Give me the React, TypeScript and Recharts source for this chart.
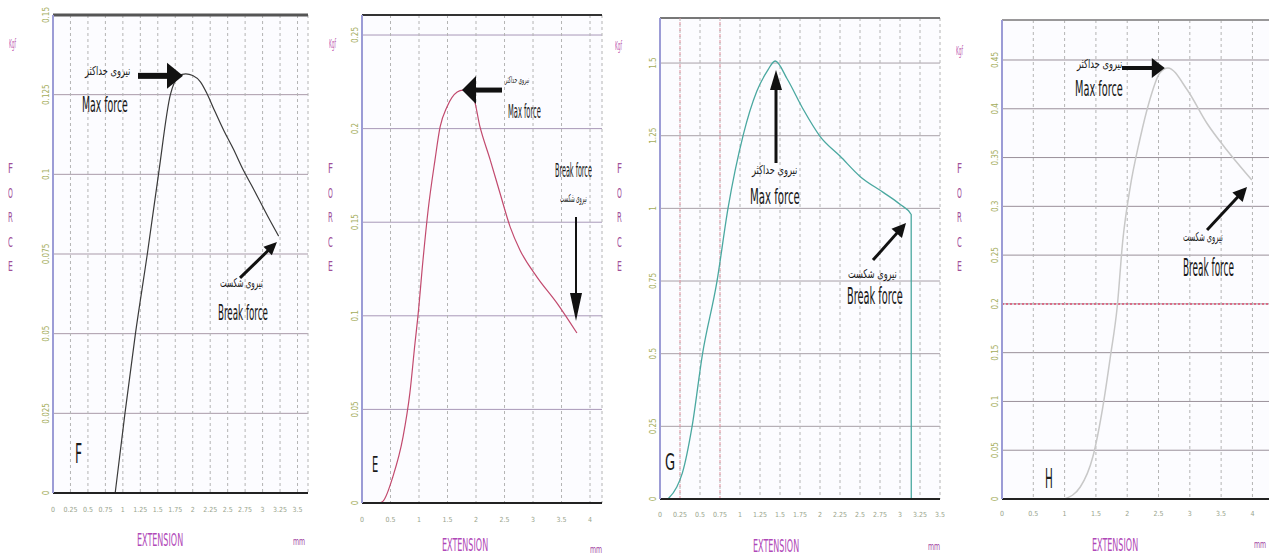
import React, { useLayoutEffect, useRef, useState } from 'react';
import { LineChart, Line, XAxis, YAxis, CartesianGrid, ReferenceLine } from 'recharts';

const COND = "'DejaVu Sans Condensed', 'DejaVu Sans', sans-serif";
const H = 557;

// F: extension (mm) / force (kgf)
const fExtension = [0.89, 1.03, 1.18, 1.35, 1.51, 1.68, 1.74, 1.8, 1.9, 2.0, 2.11, 2.2, 2.3, 2.45, 2.58, 2.72, 2.87, 3.07, 3.23];
const fForce = [0, 0.025, 0.05, 0.075, 0.1, 0.125, 0.129, 0.131, 0.1315, 0.131, 0.129, 0.1255, 0.1206, 0.1135, 0.108, 0.1015, 0.0954, 0.087, 0.0806];
const fTicksX = [0, 0.25, 0.5, 0.75, 1, 1.25, 1.5, 1.75, 2, 2.25, 2.5, 2.75, 3, 3.25, 3.5];
const fTicksY = [0, 0.025, 0.05, 0.075, 0.1, 0.125, 0.15];

// E
const eExtension = [0.3, 0.37, 0.54, 0.72, 0.84, 0.93, 0.98, 1.07, 1.16, 1.28, 1.37, 1.49, 1.67, 1.77, 1.95, 2.07, 2.25, 2.42, 2.6, 2.77, 3.07, 3.42, 3.77];
const eForce = [0, 0.001, 0.0139, 0.0353, 0.0588, 0.0855, 0.0994, 0.1298, 0.1565, 0.1832, 0.2009, 0.2116, 0.2196, 0.2206, 0.2169, 0.2009, 0.1832, 0.1656, 0.1474, 0.1352, 0.1207, 0.1068, 0.0908];
const eTicksX = [0, 0.5, 1, 1.5, 2, 2.5, 3, 3.5, 4];
const eTicksY = [0, 0.05, 0.1, 0.15, 0.2, 0.25];

// G
const gExtension = [0.1, 0.21, 0.28, 0.4, 0.53, 0.71, 0.85, 1.04, 1.21, 1.34, 1.44, 1.59, 1.79, 2.0, 2.25, 2.5, 2.79, 3.0, 3.14, 3.141];
const gForce = [0, 0.041, 0.09, 0.248, 0.497, 0.745, 1.0, 1.252, 1.403, 1.472, 1.507, 1.445, 1.341, 1.248, 1.18, 1.11, 1.055, 1.014, 0.979, 0];
const gTicksX = [0, 0.25, 0.5, 0.75, 1, 1.25, 1.5, 1.75, 2, 2.25, 2.5, 2.75, 3, 3.25, 3.5];
const gTicksY = [0, 0.25, 0.5, 0.75, 1, 1.25, 1.5];

// H
const hExtension = [1.0, 1.25, 1.45, 1.61, 1.73, 1.84, 1.93, 2.04, 2.2, 2.36, 2.52, 2.65, 2.96, 3.27, 3.59, 3.99];
const hForce = [0, 0.0123, 0.043, 0.0943, 0.1455, 0.1968, 0.2655, 0.3167, 0.368, 0.409, 0.4366, 0.4418, 0.4192, 0.3854, 0.3577, 0.327];
const hTicksX = [0, 0.5, 1, 1.5, 2, 2.5, 3, 3.5, 4];
const hTicksY = [0, 0.05, 0.1, 0.15, 0.2, 0.25, 0.3, 0.35, 0.4, 0.45];

const fmt = (v: number) => String(+v.toFixed(3));

type Arrow = { from: [number, number]; to: [number, number]; w: number; head: number; hw: number };

const arrowShape = (a: Arrow) => (props: any) => {
  const { x1, y1, x2, y2 } = props;
  const dx = x2 - x1, dy = y2 - y1;
  const len = Math.hypot(dx, dy) || 1;
  const ux = dx / len, uy = dy / len;
  const bx = x2 - ux * a.head, by = y2 - uy * a.head;
  const px = -uy, py = ux;
  return (
    <g>
      <line x1={x1} y1={y1} x2={bx + ux} y2={by + uy} stroke="#111" strokeWidth={a.w} />
      <polygon
        points={`${x2},${y2} ${bx + px * a.hw},${by + py * a.hw} ${bx - px * a.hw},${by - py * a.hw}`}
        fill="#111"
      />
    </g>
  );
};

const YTick = ({ x, y, payload }: any) => (
  <text x={x} y={y} transform={`rotate(-90 ${x} ${y})`} textAnchor="middle" fontSize={8} fill="#a4ad5c" fontFamily={COND}>
    {fmt(payload.value)}
  </text>
);

function Panel(p: any) {
  const data = p.ext.map((x: number, i: number) => ({ x, y: p.force[i] }));
  const xh = 30;
  return (
    <div style={{ position: 'absolute', left: p.left, top: 0 }}>
      <LineChart
        width={p.width}
        height={H}
        data={data}
        margin={{ top: p.plotTop, right: p.right, bottom: H - p.plotBottom - xh, left: 0 }}
      >
        <CartesianGrid vertical={false} stroke={p.hGrid} fill="#fcfcff" />
        <CartesianGrid horizontal={false} stroke="#b4b4b4" strokeDasharray="3 3" />
        <XAxis
          dataKey="x" type="number" domain={p.xDomain} ticks={p.xTicks} interval={0}
          height={xh} allowDataOverflow tickSize={0} tickMargin={p.xTickMargin}
          axisLine={{ stroke: '#222', strokeWidth: 2 }}
          tick={{ fontSize: 7, fill: '#98a48c', fontFamily: COND }}
          tickFormatter={fmt}
        />
        <YAxis
          type="number" domain={p.yDomain} ticks={p.yTicks} interval={0} width={p.yWidth}
          allowDataOverflow tickSize={0} tickMargin={4}
          axisLine={{ stroke: '#9c9cd6', strokeWidth: 2 }}
          tick={(t: any) => <YTick {...t} />}
        />
        <ReferenceLine y={p.yDomain[1]} stroke={p.topColor} strokeWidth={p.topWidth} />
        {p.extra}
        <Line dataKey="y" type="monotone" stroke={p.color} strokeWidth={p.lineWidth} dot={false} isAnimationActive={false} />
        {p.arrows.map((a: Arrow, i: number) => (
          <ReferenceLine
            key={i}
            segment={[{ x: a.from[0], y: a.from[1] }, { x: a.to[0], y: a.to[1] }]}
            shape={arrowShape(a)}
          />
        ))}
      </LineChart>
    </div>
  );
}

// text fitted to a measured width; y is the top of the capitals
function FitText({ x, y, w, h, color = '#1a1a1a', font = COND, children }: any) {
  const ref = useRef<HTMLSpanElement>(null);
  const [s, setS] = useState(1);
  const size = h / 0.729;
  useLayoutEffect(() => {
    const mw = ref.current ? ref.current.offsetWidth : 0;
    if (mw) setS(w / mw);
  }, [w, children]);
  return (
    <span
      ref={ref}
      style={{
        position: 'absolute', left: x, top: y - 0.117 * size, fontSize: size, lineHeight: 1,
        color, fontFamily: font, whiteSpace: 'nowrap', transform: `scaleX(${s})`, transformOrigin: 'left top',
      }}
    >
      {children}
    </span>
  );
}

const MAX_FA = 'نیروی حداکثر';
const BREAK_FA = 'نیروی شکست';
const AR = "'DejaVu Sans', sans-serif";

const panels = [
  {
    left: 0, width: 320, yWidth: 53, right: 12, plotTop: 15, plotBottom: 493, xTickMargin: 14,
    ext: fExtension, force: fForce, xTicks: fTicksX, yTicks: fTicksY, xDomain: [0, 3.65], yDomain: [0, 0.15],
    color: '#3a3a3a', lineWidth: 1.2, hGrid: '#a99aa9', topColor: '#555', topWidth: 3,
    arrows: [
      { from: [1.217, 0.1309], to: [1.861, 0.1309], w: 6, head: 16, hw: 13 },
      { from: [2.677, 0.0675], to: [3.206, 0.0788], w: 3, head: 13, hw: 6 },
    ],
  },
  {
    left: 320, width: 290, yWidth: 42, right: 8, plotTop: 15, plotBottom: 503, xTickMargin: 14,
    ext: eExtension, force: eForce, xTicks: eTicksX, yTicks: eTicksY, xDomain: [0, 4.21], yDomain: [0, 0.2607],
    color: '#c24a6e', lineWidth: 1.2, hGrid: '#a898b8', topColor: '#333', topWidth: 2,
    arrows: [
      { from: [2.456, 0.2206], to: [1.754, 0.2206], w: 5, head: 14, hw: 14 },
      { from: [3.754, 0.1528], to: [3.754, 0.0972], w: 2, head: 28, hw: 6 },
    ],
  },
  {
    left: 610, width: 335, yWidth: 50, right: 5, plotTop: 18, plotBottom: 499, xTickMargin: 13,
    ext: gExtension, force: gForce, xTicks: gTicksX, yTicks: gTicksY, xDomain: [0, 3.5], yDomain: [0, 1.655],
    color: '#4aa8a0', lineWidth: 1.3, hGrid: '#a8a0a8', topColor: '#777', topWidth: 2,
    arrows: [
      { from: [1.45, 1.156], to: [1.45, 1.476], w: 3, head: 20, hw: 6 },
      { from: [2.6625, 0.822], to: [3.075, 0.95], w: 3, head: 14, hw: 7 },
    ],
    extra: [
      <ReferenceLine key="r1" x={0.25} stroke="#e0909e" strokeDasharray="3 3" />,
      <ReferenceLine key="r2" x={0.75} stroke="#e0909e" strokeDasharray="3 3" />,
    ],
  },
  {
    left: 945, width: 345, yWidth: 57, right: 0, plotTop: 20, plotBottom: 499, xTickMargin: 12,
    ext: hExtension, force: hForce, xTicks: hTicksX, yTicks: hTicksY, xDomain: [0, 4.6], yDomain: [0, 0.491],
    color: '#c8c8c8', lineWidth: 1.5, hGrid: '#9a909a', topColor: '#888', topWidth: 1.5,
    arrows: [
      { from: [1.917, 0.4418], to: [2.6, 0.4418], w: 4, head: 13, hw: 10 },
      { from: [3.275, 0.2757], to: [3.914, 0.3198], w: 3, head: 14, hw: 7 },
    ],
    extra: [<ReferenceLine key="r" y={0.2} stroke="#e05070" strokeDasharray="2 2" strokeWidth={1.5} />],
  },
];

// [text, x, capTop, width, capHeight, font]
const notes: [string, number, number, number, number, string][] = [
  [MAX_FA, 85, 66, 45, 9, AR], ['Max force', 82, 97, 46, 15, COND],
  [BREAK_FA, 220, 278, 43, 9, AR], ['Break force', 218, 305, 50, 16, COND], ['F', 75, 443, 7, 20, COND],
  [MAX_FA, 505, 76, 24, 7, AR], ['Max force', 508, 104, 33, 14, COND],
  ['Break force', 555, 163, 37, 14, COND], [BREAK_FA, 560, 195, 27, 8, AR], ['E', 372, 457, 6, 16, COND],
  [MAX_FA, 752, 165, 45, 9, AR], ['Max force', 750, 189, 50, 16, COND],
  [BREAK_FA, 848, 269, 49, 9, AR], ['Break force', 847, 287, 56, 17, COND], ['G', 665, 453, 10, 17, COND],
  [MAX_FA, 1077, 59, 45, 9, AR], ['Max force', 1075, 81, 48, 16, COND],
  [BREAK_FA, 1183, 232, 40, 9, AR], ['Break force', 1183, 259, 51, 18, COND], ['H', 1045, 468, 8, 20, COND],
];

// per panel: Kgf x/y, FORCE x, EXTENSION x/y, mm x/y
const axisText = [
  { kx: 9, ky: 39, fx: 8, ex: 137, ey: 533, mx: 293, my: 538 },
  { kx: 329, ky: 39, fx: 328, ex: 442, ey: 538, mx: 590, my: 546 },
  { kx: 615, ky: 41, fx: 617, ex: 753, ey: 539, mx: 928, my: 543 },
  { kx: 956, ky: 46, fx: 957, ex: 1092, ey: 538, mx: 1254, my: 541 },
];

export default function App() {
  return (
    <div style={{ position: 'absolute', left: 0, top: 0, width: 1269, height: H, overflow: 'hidden', background: '#fff' }}>
      {panels.map((p, i) => <Panel key={i} {...p} />)}
      {notes.map(([t, x, y, w, h, f], i) => (
        <FitText key={'n' + i} x={x} y={y} w={w} h={h} font={f}>{t}</FitText>
      ))}
      {axisText.map((a, i) => (
        <React.Fragment key={'a' + i}>
          <FitText x={a.kx} y={a.ky} w={7} h={9} color="#c060b0">Kgf</FitText>
          {'FORCE'.split('').map((c, j) => (
            <FitText key={j} x={a.fx} y={164 + j * 24.5} w={5} h={10} color="#a0509a">{c}</FitText>
          ))}
          <FitText x={a.ex} y={a.ey} w={46} h={13} color="#b048b8">EXTENSION</FitText>
          <FitText x={a.mx} y={a.my} w={12} h={8} color="#a040a0">mm</FitText>
        </React.Fragment>
      ))}
    </div>
  );
}
